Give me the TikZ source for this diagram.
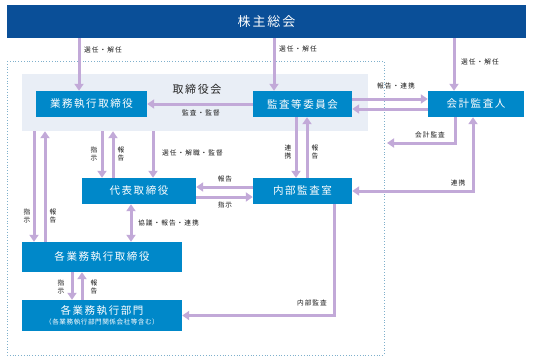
\documentclass[tikz,border=0pt]{standalone}
\usepackage{fontspec}
\setmainfont{Noto Sans CJK JP}
\usetikzlibrary{arrows.meta, calc}
\definecolor{gmBlue}{HTML}{0A4F98}
\definecolor{boxBlue}{HTML}{0088C9}
\definecolor{arrLav}{HTML}{C2A9D8}
\definecolor{boardGray}{HTML}{E9EEF6}
\definecolor{frameTeal}{HTML}{7FB0CC}

\begin{document}
\begin{tikzpicture}[x=1pt, y=-1pt, >={Triangle[width=9pt,length=7pt]},
      bx/.style={fill=boxBlue, text=white, minimum height=26pt, inner sep=0pt,
        font=\fontsize{10.5}{11}\selectfont\addfontfeatures{LetterSpace=15}},
      lbl/.style={text=black!90, inner sep=0pt, align=center,
        font=\fontsize{6.7}{8}\selectfont\addfontfeatures{LetterSpace=15}},
      ar/.style={arrLav, line width=3pt, ->},
      arr2/.style={ar, <->}]
    \useasboundingbox (0,0) rectangle (533,364);
    % boxes
    \node[bx, fill=gmBlue, minimum width=519pt, minimum height=33pt,
      font=\fontsize{13}{14}\selectfont\addfontfeatures{LetterSpace=15}] (gm) at (266.5,21.5) {株主総会};
    \draw[frameTeal, dotted, line width=0.8pt] (7,61) rectangle (384,355);
    \node[fill=boardGray, minimum width=346pt, minimum height=57pt, inner sep=0pt] (board) at (195,102.5) {};
    \node[text=black!85, inner sep=0pt,
      font=\fontsize{11}{12}\selectfont\addfontfeatures{LetterSpace=15}] (boardlbl) at (197,89) {取締役会};
    \node[bx, minimum width=111pt] (exec) at (91.5,104) {業務執行取締役};
    \node[bx, minimum width=99pt] (ac) at (302.5,104) {監査等委員会};
    \node[bx, minimum width=96pt] (kaikei) at (476,104) {会計監査人};
    \node[bx, minimum width=114pt] (ceo) at (139,191) {代表取締役};
    \node[bx, minimum width=99pt] (ia) at (302.5,191) {内部監査室};
    \node[bx, minimum width=160pt, minimum height=30pt] (each) at (102,257) {各業務執行取締役};
    \node[bx, minimum width=160pt, minimum height=31pt, align=center] (dept) at (102,315.5)
      {各業務執行部門\\[-1pt]{\fontsize{6.6}{7}\selectfont\addfontfeatures{LetterSpace=8}（各業務執行部門関係会社等含む）}};
    \coordinate (kaEnd) at (387,143);

    % arrows
    \draw[ar] ([xshift=-12.5pt]exec.north |- gm.south) -- ([xshift=-12.5pt]exec.north);
    \draw[ar] ([xshift=-28.5pt]ac.north |- gm.south) -- ([xshift=-28.5pt]ac.north);
    \draw[ar] ([xshift=-22pt]kaikei.north |- gm.south) -- ([xshift=-22pt]kaikei.north);
    \draw[ar] (ac.west) -- (exec.east);
    \draw[ar] ([yshift=5pt]ac.east) -- ([yshift=5pt]kaikei.west);
    \draw[ar] ([yshift=-5pt]kaikei.west) -- ([yshift=-5pt]ac.east);
    \draw[ar] ([xshift=-21pt]kaikei.south) |- (kaEnd);
    \draw[arr2] (ia.east) -| ([xshift=-3pt]kaikei.south);
    \draw[ar] ([xshift=-37pt]ceo.north |- board.south) -- ([xshift=-37pt]ceo.north);
    \draw[ar] ([xshift=-26pt]ceo.north) -- ([xshift=-26pt]ceo.north |- board.south);
    \draw[ar] ([xshift=14pt]ceo.north |- board.south) -- ([xshift=14pt]ceo.north);
    \draw[ar] ([xshift=-68pt]each.north |- board.south) -- ([xshift=-68pt]each.north);
    \draw[ar] ([xshift=-57pt]each.north) -- ([xshift=-57pt]each.north |- board.south);
    \draw[ar] ([xshift=-6.5pt]ac.south) -- ([xshift=-6.5pt]ia.north);
    \draw[ar] ([xshift=4.5pt]ia.north) -- ([xshift=4.5pt]ac.south);
    \draw[ar] ([yshift=4pt]ia.west) -- ([yshift=4pt]ceo.east);
    \draw[ar] ([yshift=-6pt]ceo.east) -- ([yshift=-6pt]ia.west);
    \draw[arr2] ([xshift=-8pt]ceo.south) -- ([xshift=-8pt]ceo.south |- each.north);
    \draw[ar] ([xshift=-30pt]each.south) -- ([xshift=-30pt]dept.north);
    \draw[ar] ([xshift=-20pt]dept.north) -- ([xshift=-20pt]each.south);
    \draw[ar] ([xshift=31.5pt]ia.south) |- (dept.east);

    % labels
    \node[lbl, anchor=west] (l1) at (84,50) {選任・解任};
    \node[lbl, anchor=west] (l2) at (279,49) {選任・解任};
    \node[lbl, anchor=west] (l3) at (461,62) {選任・解任};
    \node[lbl] (l4) at (201,113) {監査・監督};
    \node[lbl] (l5) at (396,86) {報告・連携};
    \node[lbl] (l6) at (430,135) {会計監査};
    \node[lbl] (l7) at (458,183) {連携};
    \node[lbl] (l8) at (94,154) {指\\示};
    \node[lbl] (l9) at (121,154) {報\\告};
    \node[lbl, anchor=west] (l10) at (162,153) {選任・解職・監督};
    \node[lbl] (l11) at (27,216) {指\\示};
    \node[lbl] (l12) at (53,216) {報\\告};
    \node[lbl] (l13) at (288,152) {連\\携};
    \node[lbl] (l14) at (315,152) {報\\告};
    \node[lbl] (l15) at (225,179) {報告};
    \node[lbl] (l16) at (225,205) {指示};
    \node[lbl, anchor=west] (l17) at (138,223) {協議・報告・連携};
    \node[lbl] (l18) at (61,287) {指\\示};
    \node[lbl] (l19) at (94,287) {報\\告};
    \node[lbl] (l20) at (312,303) {内部監査};
  \end{tikzpicture}
\end{document}
